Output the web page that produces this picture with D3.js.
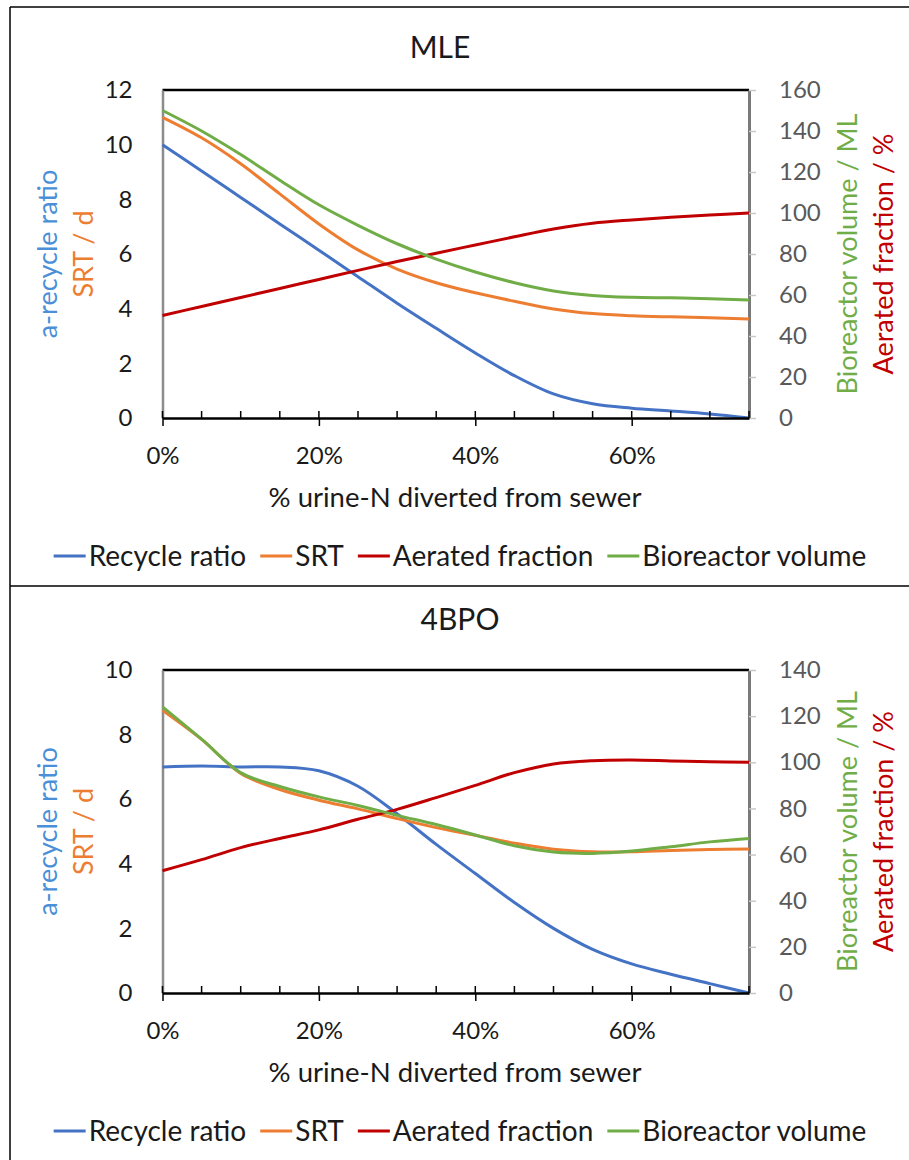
<!DOCTYPE html>
<html>
<head>
<meta charset="utf-8">
<script src="https://cdn.jsdelivr.net/npm/d3@7"></script>
<style>
  body { margin: 0; background: #fff; }
  text { font-family: Lato, "Open Sans", sans-serif; }
</style>
</head>
<body>
<script>
const width = 909;
const height = 1160;

// % urine-N diverted (fraction)
const diverted = [0, 0.05, 0.10, 0.15, 0.20, 0.25, 0.30, 0.35, 0.40, 0.45, 0.50, 0.55, 0.60, 0.65, 0.70, 0.75];

// MLE panel
const mleRecycle = [10, 9.04, 8.07, 7.1, 6.14, 5.17, 4.2, 3.28, 2.38, 1.55, 0.88, 0.52, 0.36, 0.26, 0.15, 0];
const mleSRT = [11.0, 10.25, 9.3, 8.2, 7.1, 6.15, 5.45, 4.95, 4.58, 4.27, 3.99, 3.82, 3.74, 3.7, 3.67, 3.62];
const mleAerated = [50, 54.4, 58.8, 63.2, 67.6, 72, 76.3, 80.4, 84.4, 88.4, 92.2, 95, 96.6, 97.9, 99, 100];
const mleVolume = [150, 140, 128.5, 116, 104, 94, 85, 77.5, 71.2, 66, 62, 59.8, 58.9, 58.6, 58.2, 57.6];

// 4BPO panel
const bpoRecycle = [7.0, 7.03, 7.0, 7.0, 6.88, 6.4, 5.55, 4.6, 3.7, 2.8, 2.0, 1.35, 0.9, 0.58, 0.29, 0];
const bpoSRT = [8.75, 7.85, 6.8, 6.3, 5.97, 5.7, 5.4, 5.12, 4.88, 4.64, 4.45, 4.37, 4.37, 4.41, 4.44, 4.46];
const bpoAerated = [53, 57.8, 63, 67, 70.7, 75.3, 79.6, 84.7, 90, 95.5, 99.3, 100.7, 101, 100.6, 100.2, 100];
const bpoVolume = [124, 110, 95.5, 89.5, 85, 81.3, 77, 73, 68.5, 63.8, 61.1, 60.5, 61.5, 63.4, 65.5, 67];

const seriesNames = ["Recycle ratio", "SRT", "Aerated fraction", "Bioreactor volume"];
const seriesColors = ["#4472C4", "#ED7D31", "#C00000", "#70AD47"];
const xTicks = [0, 0.2, 0.4, 0.6];
const xMinorTicks = d3.range(0, 0.751, 0.05);

var svg = d3.select("body").append("svg")
  .attr("width", width)
  .attr("height", height);

// outer frame
svg.append("line").attr("x1", 10).attr("x2", 10).attr("y1", 7).attr("y2", height)
  .attr("stroke", "#000").attr("stroke-width", 1.5);
svg.append("line").attr("x1", 10).attr("x2", width).attr("y1", 7).attr("y2", 7)
  .attr("stroke", "#000").attr("stroke-width", 1.5);
svg.append("line").attr("x1", 10).attr("x2", width).attr("y1", 586).attr("y2", 586)
  .attr("stroke", "#000").attr("stroke-width", 1.5);

function drawPanel(p) {
  var x = d3.scaleLinear().domain([0, 0.75]).range([162.5, 749]);
  var yL = d3.scaleLinear().domain([0, p.leftMax]).range([p.bottom, p.top]);
  var yR = d3.scaleLinear().domain([0, p.rightMax]).range([p.bottom, p.top]);

  // title
  svg.append("text")
    .attr("x", p.titleX).attr("y", p.titleY)
    .attr("text-anchor", "middle")
    .attr("font-size", 30)
    .attr("fill", "#1a1a1a")
    .text(p.title);

  // top border of plot
  svg.append("line").attr("x1", x(0)).attr("x2", x(0.75)).attr("y1", p.top).attr("y2", p.top)
    .attr("stroke", "#000").attr("stroke-width", 2.5);

  // left axis
  var gL = svg.append("g").attr("transform", "translate(" + x(0) + ",0)")
    .call(d3.axisLeft(yL).ticks(p.leftMax / 2).tickSize(0).tickPadding(30));
  gL.select(".domain").attr("stroke", "#8c8c8c").attr("stroke-width", 2.5);
  gL.selectAll("text").attr("font-size", 24).attr("fill", "#1a1a1a")
    .attr("font-family", "Lato");

  // right axis
  var gR = svg.append("g").attr("transform", "translate(" + x(0.75) + ",0)")
    .call(d3.axisRight(yR).ticks(p.rightMax / 20).tickSizeInner(7).tickSizeOuter(0).tickPadding(23));
  gR.select(".domain").attr("stroke", "#7a7a7a").attr("stroke-width", 3);
  gR.selectAll(".tick line").attr("stroke", "#c8c8c8").attr("stroke-width", 1.5);
  gR.selectAll("text").attr("font-size", 24).attr("fill", "#595959")
    .attr("font-family", "Lato");

  // lines
  var series = [
    { v: p.recycle, y: yL },
    { v: p.srt, y: yL },
    { v: p.aerated, y: yR },
    { v: p.volume, y: yR }
  ];
  series.forEach(function(s, i) {
    var line = d3.line()
      .x(function(d, j) { return x(diverted[j]); })
      .y(function(d) { return s.y(d); })
      .curve(d3.curveCatmullRom.alpha(0.5));
    svg.append("path")
      .datum(s.v)
      .attr("fill", "none")
      .attr("stroke", seriesColors[i])
      .attr("stroke-width", 3)
      .attr("d", line);
  });

  // bottom axis
  var gX = svg.append("g").attr("transform", "translate(0," + p.bottom + ")")
    .call(d3.axisBottom(x).tickValues(xTicks).tickSizeInner(8).tickSizeOuter(0)
      .tickPadding(21).tickFormat(d3.format(".0%")));
  gX.select(".domain").attr("stroke", "#000").attr("stroke-width", 2.5);
  gX.selectAll(".tick line").attr("stroke", "#000").attr("stroke-width", 1.5);
  gX.selectAll("text").attr("font-size", 24).attr("fill", "#1a1a1a")
    .attr("font-family", "Lato");
  gX.selectAll(".minor").data(xMinorTicks).enter().append("line")
    .attr("class", "minor")
    .attr("x1", function(d) { return x(d); }).attr("x2", function(d) { return x(d); })
    .attr("y1", 0).attr("y2", -7)
    .attr("stroke", "#000").attr("stroke-width", 1.5);

  // x title
  svg.append("text")
    .attr("x", 455).attr("y", p.bottom + 89)
    .attr("text-anchor", "middle")
    .attr("font-size", 27.5).attr("fill", "#1a1a1a")
    .text("% urine-N diverted from sewer");

  // y titles
  var mid = (p.top + p.bottom) / 2;
  [["a-recycle ratio", 57, "#4A8FD8"], ["SRT / d", 93, "#ED7D31"],
   ["Bioreactor volume / ML", 857, "#70AD47"], ["Aerated fraction / %", 893, "#C00000"]]
    .forEach(function(t) {
      svg.append("text")
        .attr("transform", "translate(" + t[1] + "," + mid + ") rotate(-90)")
        .attr("text-anchor", "middle")
        .attr("font-size", 27)
        .attr("fill", t[2])
        .text(t[0]);
    });

  // legend
  var lg = svg.append("g");
  var cx = 0;
  seriesNames.forEach(function(name, i) {
    var item = lg.append("g").attr("transform", "translate(" + cx + ",0)");
    item.append("line").attr("x1", 0).attr("x2", 32).attr("y1", 0).attr("y2", 0)
      .attr("stroke", seriesColors[i]).attr("stroke-width", 3);
    var t = item.append("text").attr("x", 35).attr("y", 9.5)
      .attr("font-size", 28).attr("fill", "#1a1a1a").text(name);
    cx += 35 + t.node().getComputedTextLength() + 14;
  });
  var total = cx - 14;
  lg.attr("transform", "translate(" + (460 - total / 2) + "," + (p.bottom + 138) + ")");
}

drawPanel({
  title: "MLE", titleX: 440, titleY: 58, top: 90, bottom: 418, leftMax: 12, rightMax: 160,
  recycle: mleRecycle, srt: mleSRT, aerated: mleAerated, volume: mleVolume
});

drawPanel({
  title: "4BPO", titleX: 460, titleY: 630, top: 670, bottom: 993, leftMax: 10, rightMax: 140,
  recycle: bpoRecycle, srt: bpoSRT, aerated: bpoAerated, volume: bpoVolume
});
</script>
</body>
</html>
